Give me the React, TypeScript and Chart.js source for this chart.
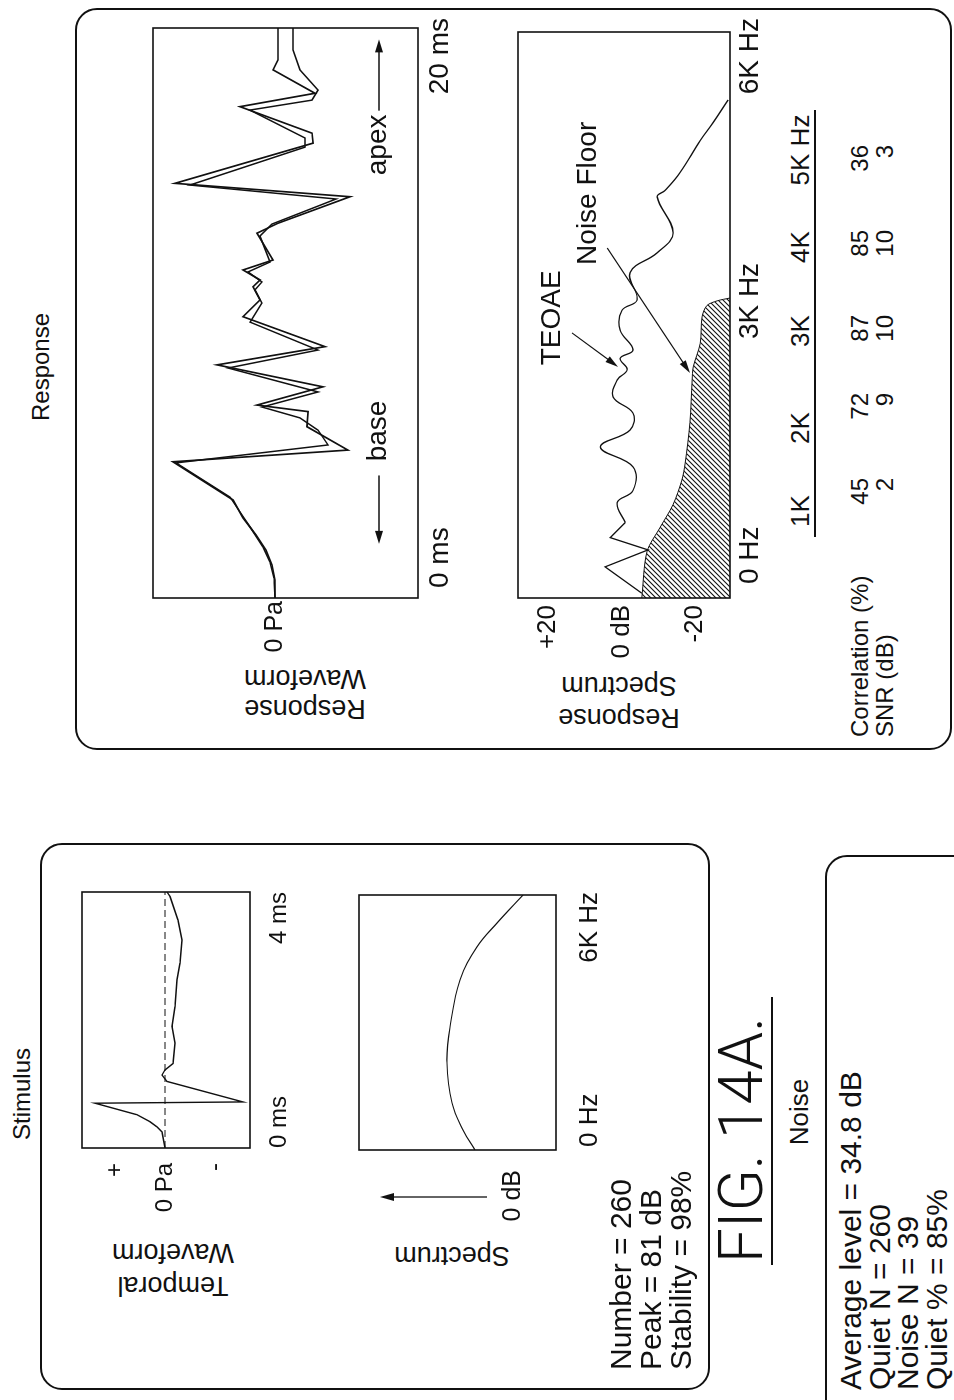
import React, { useEffect, useRef } from 'react';
import { Chart, registerables } from 'chart.js';

Chart.register(...registerables);

const FONT = '"Liberation Sans", Arial, Helvetica, sans-serif';
const INK = '#111';

// ---------- Data ----------
// Stimulus temporal waveform (ms, arbitrary Pa units)
const stimTime = [0, 0.25, 0.33, 0.41, 0.52, 0.7, 0.72, 1.04, 1.14, 1.22, 1.32, 1.64, 1.9, 2.21, 2.63, 2.89, 3.25, 3.56, 3.93, 4.0];
const stimWave = [0, 0.3, 0.8, 1.5, 2.8, 7.0, -7.8, -0.2, 0.3, 0, -0.8, -1.0, -0.7, -1.0, -1.2, -1.5, -1.7, -1.3, -0.5, -0.2];
// Stimulus spectrum (kHz, relative dB)
const stimFreq = [0, 0.47, 1.11, 2.05, 2.89, 4.0, 4.78, 5.34, 6.0];
const stimSpec = [3.8, 5.0, 6.1, 6.6, 6.3, 5.3, 3.6, 1.6, -1.0];
// Response waveform, buffer A and B (ms, arbitrary units)
const respTimeA = [0, 0.63, 1.16, 1.68, 2.21, 2.81, 3.44, 4.78, 5.19, 6.01, 6.54, 6.77, 7.41, 8.18, 8.82, 9.87, 10.46, 10.92, 11.16, 11.51, 11.86, 12.8, 13.15, 14.08, 14.55, 15.96, 16.31, 17.24, 17.71, 18.53, 18.88, 20];
const respWaveA = [0, 0, 0.3, 0.9, 1.9, 3.2, 4.2, 10.2, -7.3, -3.2, -3.3, 1.8, -4.8, 5.8, -5.0, 3.2, 1.5, 2.2, 1.5, 3.2, 0.2, 1.8, -0.3, -7.5, 10.0, -3.8, -3.7, 3.5, -4.0, 0.2, -0.3, -0.3];
const respTimeB = [0, 0.7, 1.26, 1.79, 2.39, 3.02, 3.54, 4.74, 5.37, 5.89, 6.32, 6.7, 7.23, 8.07, 8.7, 9.68, 10.35, 10.81, 11.09, 11.44, 11.79, 12.7, 13.12, 14.0, 14.49, 15.82, 16.14, 17.12, 17.47, 17.82, 18.53, 19.23, 20];
const respWaveB = [0, 0.1, 0.5, 1.2, 2.3, 3.5, 4.5, 9.9, -5.3, -4.3, -2.5, 1.3, -4.3, 4.7, -4.3, 2.5, 1.3, 2.0, 1.3, 2.7, 0.5, 1.5, 0.3, -6.1, 8.5, -3.0, -3.0, 2.5, -3.7, -4.3, -2.5, -1.8, -1.8];
// Response spectrum: TEOAE and noise floor (kHz, dB)
const teoaeFreq = [0.05, 0.33, 0.51, 0.64, 0.8, 1.01, 1.14, 1.39, 1.6, 1.78, 1.96, 2.13, 2.31, 2.42, 2.54, 2.63, 2.84, 3.05, 3.16, 3.45, 3.66, 3.87, 4.25, 4.32, 4.51, 4.85, 5.04, 5.28];
const teoaeLevel = [-5.5, 4.5, -7.2, 3.1, -1.0, 1.2, -3.1, -3.1, 5.8, -2.3, -3.1, 2.3, 1.2, -1.5, 0.4, -3.1, 0.4, -0.1, -4.2, -2.3, -9.7, -14.0, -9.7, -11.8, -15.9, -21.4, -24.9, -29.0];
const noiseFreq = [0, 0.49, 0.75, 0.99, 1.25, 1.43, 1.86, 2.31, 2.45, 2.7, 2.98, 3.1, 3.15, 3.18];
const noiseLevel = [-5.5, -6.9, -10.5, -14.0, -16.4, -17.3, -18.6, -19.2, -19.5, -21.4, -21.9, -23.2, -26.0, -29.5];

// Tick labels
const stimWaveTicks = [-5, 0, 5];
const stimWaveTickLabels = ['-', '0 Pa', '+'];
const stimTimeTicks = [0, 4];
const stimTimeTickLabels = ['0 ms', '4 ms'];
const stimSpecTicks = [0];
const stimSpecTickLabels = ['0 dB'];
const stimFreqTicks = [0, 6];
const stimFreqTickLabels = ['0 Hz', '6K Hz'];
const respWaveTicks = [0];
const respWaveTickLabels = ['0 Pa'];
const respTimeTicks = [0, 20];
const respTimeTickLabels = ['0 ms', '20 ms'];
const respSpecTicks = [-20, 0, 20];
const respSpecTickLabels = ['-20', '0 dB', '+20'];
const respFreqTicks = [0, 3, 6];
const respFreqTickLabels = ['0 Hz', '3K Hz', '6K Hz'];

// Table
const bandLabels = ['1K', '2K', '3K', '4K', '5K Hz'];
const correlation = [45, 72, 87, 85, 36];
const snr = [2, 9, 10, 10, 3];

// Text blocks
const stimStats = ['Number = 260', 'Peak = 81 dB', 'Stability = 98%'];
const noiseStats = ['Average level = 34.8 dB', 'Quiet N = 260', 'Noise N = 39', 'Quiet % = 85%'];

// Annotations (in data coordinates)
const baseNote = { text: 'base', x: 5.86, y: -10.3, from: 4.3, to: 1.9 };
const apexNote = { text: 'apex', x: 15.9, y: -10.3, from: 17.1, to: 19.6 };
const teoaeNote = { text: 'TEOAE', x: 2.97, y: 18.9, ax1: 2.81, ay1: 13.5, ax2: 2.45, ay2: 0.95 };
const floorNote = { text: 'Noise Floor', x: 4.29, y: 9.1, ax1: 3.71, ay1: 3.9, ax2: 2.385, ay2: -18.6 };
const spectrumArrow = { from: 2.6, to: 13.3 };

const zip = (xs: number[], ys: number[]) => xs.map((x, i) => ({ x, y: ys[i] }));

// ---------- helpers ----------
function drawArrow(ctx: CanvasRenderingContext2D, x1: number, y1: number, x2: number, y2: number, len = 13, half = 4) {
  const a = Math.atan2(y2 - y1, x2 - x1);
  ctx.beginPath();
  ctx.moveTo(x1, y1);
  ctx.lineTo(x2 - Math.cos(a) * len * 0.7, y2 - Math.sin(a) * len * 0.7);
  ctx.stroke();
  ctx.beginPath();
  ctx.moveTo(x2, y2);
  ctx.lineTo(x2 - len * Math.cos(a) + half * Math.sin(a), y2 - len * Math.sin(a) - half * Math.cos(a));
  ctx.lineTo(x2 - len * Math.cos(a) - half * Math.sin(a), y2 - len * Math.sin(a) + half * Math.cos(a));
  ctx.closePath();
  ctx.fill();
}

const framePlugin = {
  id: 'frame',
  afterDatasetsDraw(chart: any) {
    const { ctx, chartArea: a } = chart;
    ctx.save();
    ctx.strokeStyle = INK;
    ctx.lineWidth = 1.6;
    ctx.strokeRect(a.left, a.top, a.right - a.left, a.bottom - a.top);
    ctx.restore();
  },
};

function axisX(min: number, max: number, ticks: number[], labels: string[], size: number, padding: number, xH: number, labelOffset = 0) {
  return {
    type: 'linear',
    position: 'bottom',
    min,
    max,
    grid: { display: false, drawTicks: false },
    border: { display: false },
    ticks: {
      autoSkip: false,
      maxRotation: 0,
      minRotation: 0,
      align: 'inner',
      padding,
      labelOffset,
      color: INK,
      font: { family: FONT, size },
      callback: (_v: any, i: number) => labels[i],
    },
    afterBuildTicks: (s: any) => {
      s.ticks = ticks.map((value) => ({ value }));
    },
    afterFit: (s: any) => {
      s.height = xH;
      s.paddingLeft = 0;
      s.paddingRight = 0;
    },
  };
}

function axisY(min: number, max: number, ticks: number[], labels: string[], size: number, padding: number, yW: number) {
  return {
    type: 'linear',
    position: 'left',
    min,
    max,
    grid: { display: false, drawTicks: false },
    border: { display: false },
    ticks: {
      autoSkip: false,
      padding,
      color: INK,
      font: { family: FONT, size },
      callback: (_v: any, i: number) => labels[i],
    },
    afterBuildTicks: (s: any) => {
      s.ticks = ticks.map((value) => ({ value }));
    },
    afterFit: (s: any) => {
      s.width = yW;
      s.paddingTop = 0;
      s.paddingBottom = 0;
    },
  };
}

type Area = { x: number; y: number; w: number; h: number };

function PlotCanvas(props: { area: Area; yW: number; xH: number; padT: number; padR: number; build: (ctx: CanvasRenderingContext2D) => any }) {
  const { area, yW, xH, padT, padR, build } = props;
  const ref = useRef<HTMLCanvasElement>(null);
  const W = yW + area.w + padR;
  const H = padT + area.h + xH;
  useEffect(() => {
    const c = ref.current as HTMLCanvasElement;
    const cfg = build(c.getContext('2d') as CanvasRenderingContext2D);
    cfg.options = {
      responsive: false,
      animation: false,
      events: [],
      layout: { padding: { left: 0, right: padR, top: padT, bottom: 0 } },
      ...cfg.options,
      plugins: { legend: { display: false }, tooltip: { enabled: false }, ...(cfg.options?.plugins || {}) },
    };
    const chart = new Chart(c, cfg);
    return () => chart.destroy();
  }, []);
  return <canvas ref={ref} width={W} height={H} style={{ position: 'absolute', left: area.x - yW, top: area.y - padT, width: W, height: H }} />;
}

const line = (data: any[], extra: any = {}) => ({
  data,
  borderColor: INK,
  borderWidth: 1.4,
  pointRadius: 0,
  tension: 0,
  fill: false,
  ...extra,
});

// ---------- Charts ----------
function StimWaveChart() {
  return (
    <PlotCanvas
      area={{ x: 252, y: 82, w: 256, h: 168 }}
      yW={80}
      xH={52}
      padT={8}
      padR={8}
      build={() => ({
        type: 'line',
        data: {
          datasets: [
            line([{ x: 0, y: 0 }, { x: 4, y: 0 }], { borderWidth: 1, borderDash: [7, 4] }),
            line(zip(stimTime, stimWave), { borderWidth: 1.4 }),
          ],
        },
        options: {
          scales: {
            x: axisX(0, 4, stimTimeTicks, stimTimeTickLabels, 24, 15, 52),
            y: axisY(-8.5, 8.3, stimWaveTicks, stimWaveTickLabels, 24, 15, 80),
          },
        },
        plugins: [framePlugin],
      })}
    />
  );
}

function StimSpecChart() {
  const notes = {
    id: 'specArrow',
    afterDraw(chart: any) {
      const { ctx, chartArea: a, scales } = chart;
      const y1 = scales.y.getPixelForValue(spectrumArrow.from);
      const y2 = scales.y.getPixelForValue(spectrumArrow.to);
      ctx.save();
      ctx.strokeStyle = INK;
      ctx.fillStyle = INK;
      ctx.lineWidth = 1.3;
      drawArrow(ctx, a.left - 47, y1, a.left - 47, y2, 14, 4);
      ctx.restore();
    },
  };
  return (
    <PlotCanvas
      area={{ x: 250, y: 359, w: 255, h: 197 }}
      yW={85}
      xH={56}
      padT={8}
      padR={8}
      build={() => ({
        type: 'line',
        data: { datasets: [line(zip(stimFreq, stimSpec), { borderWidth: 1.2, tension: 0.4 })] },
        options: {
          scales: {
            x: axisX(0, 6, stimFreqTicks, stimFreqTickLabels, 26, 18, 56, 3),
            y: axisY(-4.3, 15.4, stimSpecTicks, stimSpecTickLabels, 25, 20, 85),
          },
        },
        plugins: [framePlugin, notes],
      })}
    />
  );
}

function RespWaveChart() {
  const notes = {
    id: 'rwNotes',
    afterDatasetsDraw(chart: any) {
      const { ctx, scales } = chart;
      const X = scales.x, Y = scales.y;
      ctx.save();
      ctx.fillStyle = INK;
      ctx.strokeStyle = INK;
      ctx.lineWidth = 1.4;
      ctx.font = `28px ${FONT}`;
      ctx.textAlign = 'center';
      ctx.textBaseline = 'middle';
      for (const n of [baseNote, apexNote]) {
        ctx.fillText(n.text, X.getPixelForValue(n.x), Y.getPixelForValue(n.y));
        const yy = Y.getPixelForValue(n.y) + 1;
        drawArrow(ctx, X.getPixelForValue(n.from), yy, X.getPixelForValue(n.to), yy, 13, 4);
      }
      ctx.restore();
    },
  };
  return (
    <PlotCanvas
      area={{ x: 802, y: 153, w: 570, h: 265 }}
      yW={64}
      xH={46}
      padT={10}
      padR={14}
      build={() => ({
        type: 'line',
        data: {
          datasets: [
            line(zip(respTimeA, respWaveA), { borderWidth: 1.7 }),
            line(zip(respTimeB, respWaveB), { borderWidth: 1.5 }),
          ],
        },
        options: {
          scales: {
            x: axisX(0, 20, respTimeTicks, respTimeTickLabels, 28, 5, 46, 10),
            y: axisY(-14.3, 12.2, respWaveTicks, respWaveTickLabels, 25, 3, 64),
          },
        },
        plugins: [framePlugin, notes],
      })}
    />
  );
}

function RespSpecChart() {
  const notes = {
    id: 'rsNotes',
    afterDatasetsDraw(chart: any) {
      const { ctx, scales } = chart;
      const X = scales.x, Y = scales.y;
      ctx.save();
      ctx.fillStyle = INK;
      ctx.strokeStyle = INK;
      ctx.lineWidth = 1.2;
      ctx.font = `28px ${FONT}`;
      ctx.textAlign = 'center';
      ctx.textBaseline = 'middle';
      for (const n of [teoaeNote, floorNote]) {
        ctx.fillText(n.text, X.getPixelForValue(n.x), Y.getPixelForValue(n.y));
        drawArrow(ctx, X.getPixelForValue(n.ax1), Y.getPixelForValue(n.ay1), X.getPixelForValue(n.ax2), Y.getPixelForValue(n.ay2), 13, 3.5);
      }
      ctx.restore();
    },
  };
  return (
    <PlotCanvas
      area={{ x: 802, y: 518, w: 566, h: 212 }}
      yW={64}
      xH={44}
      padT={8}
      padR={18}
      build={(ctx) => {
        const pc = document.createElement('canvas');
        pc.width = 5;
        pc.height = 5;
        const g = pc.getContext('2d') as CanvasRenderingContext2D;
        g.strokeStyle = INK;
        g.lineWidth = 1.1;
        g.beginPath();
        g.moveTo(0, 5);
        g.lineTo(5, 0);
        g.moveTo(-1, 1);
        g.lineTo(1, -1);
        g.moveTo(4, 6);
        g.lineTo(6, 4);
        g.stroke();
        const pattern = ctx.createPattern(pc, 'repeat');
        const zig = zip(teoaeFreq, teoaeLevel);
        return {
          type: 'line',
          data: {
            datasets: [
              line(zip(noiseFreq, noiseLevel), { borderWidth: 1, tension: 0.3, fill: 'start', backgroundColor: pattern }),
              line(zig.slice(0, 5), { borderWidth: 1.3 }),
              line(zig.slice(4), { borderWidth: 1.3, tension: 0.4 }),
            ],
          },
          options: {
            scales: {
              x: axisX(0, 6, respFreqTicks, respFreqTickLabels, 28, 3, 44, 14),
              y: axisY(-29.5, 28.2, respSpecTicks, respSpecTickLabels, 26, 7, 64),
            },
          },
          plugins: [framePlugin, notes],
        };
      }}
    />
  );
}

// ---------- HTML text helpers ----------
function T(props: { x: number; y: number; size?: number; rot?: number; align?: 'left' | 'center' | 'right'; lh?: number; family?: string; weight?: number; children: any }) {
  const { x, y, size = 26, rot = 0, align = 'center', lh, family = FONT, weight = 400, children } = props;
  const tx = align === 'left' ? '0' : align === 'right' ? '-100%' : '-50%';
  return (
    <div
      style={{
        position: 'absolute',
        left: x,
        top: y,
        transform: `translate(${tx}, -50%) rotate(${rot}deg)`,
        fontSize: size,
        lineHeight: lh ? `${lh}px` : 1.15,
        whiteSpace: 'pre',
        textAlign: 'center',
        fontFamily: family,
        fontWeight: weight,
        color: INK,
      }}
    >
      {children}
    </div>
  );
}

function Box(props: { x: number; y: number; w: number; h: number }) {
  const { x, y, w, h } = props;
  return <div style={{ position: 'absolute', left: x, top: y, width: w, height: h, border: `2px solid ${INK}`, borderRadius: 22, boxSizing: 'border-box' }} />;
}

function HLine(props: { x: number; y: number; w: number; t?: number }) {
  return <div style={{ position: 'absolute', left: props.x, top: props.y, width: props.w, height: props.t || 2, background: INK }} />;
}

const bandCenters = [889, 972, 1069, 1153, 1250];
const valueRights = [922, 1007, 1085, 1170, 1255];

export default function App() {
  return (
    <div style={{ position: 'absolute', left: 0, top: 0, width: 954, height: 1400, overflow: 'hidden', background: '#fff' }}>
      <div
        style={{
          position: 'absolute',
          left: 0,
          top: 0,
          width: 1400,
          height: 954,
          transformOrigin: '0 0',
          transform: 'rotate(-90deg) translate(-1400px, 0)',
          fontFamily: FONT,
          color: INK,
        }}
      >
        <Box x={10} y={40} w={547} h={670} />
        <Box x={650} y={75} w={742} h={877} />
        <Box x={-30} y={825} w={575} h={220} />

        <T x={306} y={22} size={24}>Stimulus</T>
        <T x={1033} y={41} size={24}>Response</T>

        <T x={131} y={173} size={27} rot={-90} lh={33}>{'Temporal\nWaveform'}</T>
        <T x={145} y={452} size={27} rot={-90}>Spectrum</T>
        <T x={706} y={305} size={27} rot={-90} lh={30}>{'Response\nWaveform'}</T>
        <T x={698} y={619} size={27} rot={-90} lh={32}>{'Response\nSpectrum'}</T>

        <StimWaveChart />
        <StimSpecChart />
        <RespWaveChart />
        <RespSpecChart />

        {stimStats.map((s, i) => (
          <T key={s} x={30} y={621 + i * 30} size={30} align="left">{s}</T>
        ))}

        <T x={137} y={741} size={62} align="left" family='Roboto, "Liberation Sans", Arial, sans-serif' weight={300}>FIG. 14A.</T>
        <HLine x={135} y={771} w={268} />

        <T x={288} y={800} size={26}>Noise</T>
        {noiseStats.map((s, i) => (
          <T key={s} x={10} y={851 + i * 28.5} size={30} align="left">{s}</T>
        ))}

        {bandLabels.map((b, i) => (
          <T key={b} x={bandCenters[i]} y={801} size={26}>{b}</T>
        ))}
        <HLine x={863} y={814} w={427} />
        <T x={663} y={860} size={24} align="left">Correlation (%)</T>
        <T x={663} y={885} size={24} align="left">SNR (dB)</T>
        {correlation.map((c, i) => (
          <T key={'c' + i} x={valueRights[i]} y={860} size={24} align="right">{String(c)}</T>
        ))}
        {snr.map((c, i) => (
          <T key={'s' + i} x={valueRights[i]} y={885} size={24} align="right">{String(c)}</T>
        ))}
      </div>
    </div>
  );
}
